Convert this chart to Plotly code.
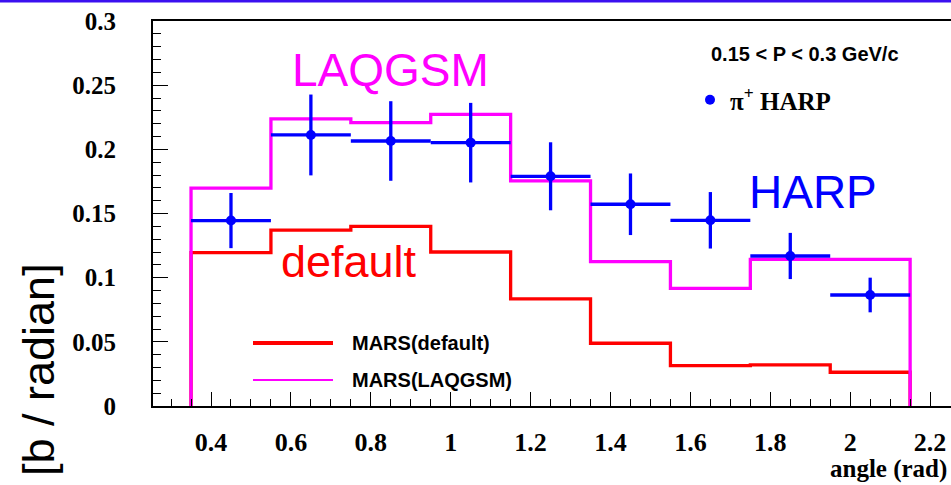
import plotly.graph_objects as go

# ---- data ----
bin_edges = [0.35, 0.55, 0.75, 0.95, 1.15, 1.35, 1.55, 1.75, 1.95, 2.15]
harp_x = [0.45, 0.65, 0.85, 1.05, 1.25, 1.45, 1.65, 1.85, 2.05]
harp_y = [0.1445, 0.2112, 0.2065, 0.2052, 0.1790, 0.1572, 0.1447, 0.1169, 0.0865]
harp_err = [0.0215, 0.0315, 0.0310, 0.0310, 0.0265, 0.0240, 0.0220, 0.0180, 0.0135]
harp_xerr = [0.1] * 9
mars_default = [0.1195, 0.1370, 0.1400, 0.1200, 0.0834, 0.0489, 0.0314, 0.0320, 0.0263]
mars_laqgsm = [0.1697, 0.2237, 0.2208, 0.2273, 0.1754, 0.1125, 0.0917, 0.1143, 0.1143]

x_tickvals = [0.4, 0.6, 0.8, 1.0, 1.2, 1.4, 1.6, 1.8, 2.0, 2.2]
x_ticktext = ["0.4", "0.6", "0.8", "1", "1.2", "1.4", "1.6", "1.8", "2", "2.2"]
y_tickvals = [0, 0.05, 0.1, 0.15, 0.2, 0.25, 0.3]
y_ticktext = ["0", "0.05", "0.1", "0.15", "0.2", "0.25", "0.3"]


def step_xy(edges, vals):
    xs = [edges[0], edges[0]] + list(edges[1:-1]) + [edges[-1], edges[-1]]
    ys = [0] + list(vals) + [vals[-1], 0]
    return xs, ys


W, H = 951, 485
L, R, T, B = 153, 0, 21, 79
PW, PH = W - L - R, H - T - B


def px(x):
    return (x - L) / PW


def py(y):
    return (H - B - y) / PH


fig = go.Figure()

xd, yd = step_xy(bin_edges, mars_default)
fig.add_trace(go.Scatter(x=xd, y=yd, mode="lines", line=dict(color="#ff0000", width=3.3, shape="hv"),
                         showlegend=False, name="MARS(default)"))
xl, yl = step_xy(bin_edges, mars_laqgsm)
fig.add_trace(go.Scatter(x=xl, y=yl, mode="lines", line=dict(color="#ff00ff", width=3.3, shape="hv"),
                         showlegend=False, name="MARS(LAQGSM)"))
fig.add_trace(go.Scatter(
    x=harp_x, y=harp_y, mode="markers", name="π<sup>+</sup> HARP",
    marker=dict(color="#0000ff", size=10, symbol="circle"),
    error_y=dict(type="data", array=harp_err, color="#0000ff", thickness=3.3, width=0),
    error_x=dict(type="data", array=harp_xerr, color="#0000ff", thickness=3.3, width=0),
    showlegend=True))

fig.update_layout(
    width=W, height=H,
    margin=dict(l=L, r=R, t=T, b=B, pad=0),
    paper_bgcolor="white", plot_bgcolor="white",
    showlegend=True,
    legend=dict(x=px(690), y=py(100), xanchor="left", yanchor="middle",
                bgcolor="rgba(0,0,0,0)", borderwidth=0,
                font=dict(family="Liberation Serif", size=25, color="black", weight="bold"),
                itemsizing="trace"),
    xaxis=dict(range=[0.2548, 0.2548 + PW / 399.5], showgrid=False, zeroline=False,
               showline=True, linecolor="black", linewidth=2, mirror=True,
               ticks="inside", ticklen=14, tickwidth=1.3, tickcolor="black",
               tickmode="array", tickvals=x_tickvals, ticktext=x_ticktext,
               tickfont=dict(family="Liberation Serif", size=26, color="black", weight="bold"),
               ticklabelstandoff=12,
               minor=dict(ticks="inside", ticklen=7, tickwidth=1.3, tickcolor="black",
                          tickmode="linear", tick0=0.25, dtick=0.05, showgrid=False)),
    yaxis=dict(range=[0, 0.3], showgrid=False, zeroline=False,
               showline=True, linecolor="black", linewidth=2, mirror=False,
               ticks="inside", ticklen=15, tickwidth=1.3, tickcolor="black",
               tickmode="array", tickvals=y_tickvals, ticktext=y_ticktext,
               tickfont=dict(family="Liberation Serif", size=25, color="black", weight="bold"),
               ticklabelstandoff=30,
               minor=dict(ticks="inside", ticklen=8, tickwidth=1.3, tickcolor="black",
                          tickmode="linear", tick0=0, dtick=0.01, showgrid=False)),
)

shapes = [
    dict(type="line", xref="paper", yref="paper", x0=px(0), x1=px(W), y0=py(1), y1=py(1),
         line=dict(color="#3b10f0", width=3)),
    dict(type="line", xref="paper", yref="paper", x0=px(253), x1=px(333), y0=py(343), y1=py(343),
         line=dict(color="#ff0000", width=4)),
    dict(type="line", xref="paper", yref="paper", x0=px(253), x1=px(333), y0=py(380), y1=py(380),
         line=dict(color="#ff00ff", width=2)),
]
fig.update_layout(shapes=shapes)

ann = [
    dict(text="LAQGSM", x=px(390), y=py(70), font=dict(family="Liberation Sans", size=46, color="#ff00ff")),
    dict(text="default", x=px(349), y=py(261), font=dict(family="Liberation Sans", size=45, color="#ff0000")),
    dict(text="HARP", x=px(813), y=py(192), font=dict(family="Liberation Sans", size=46, color="#0000ff")),
    dict(text="0.15 < P < 0.3 GeV/c", x=px(805), y=py(54),
         font=dict(family="Liberation Sans", size=20, color="black", weight="bold")),
    dict(text="MARS(default)", x=px(351), y=py(343), xanchor="left",
         font=dict(family="Liberation Sans", size=20, color="black", weight="bold")),
    dict(text="MARS(LAQGSM)", x=px(351), y=py(380), xanchor="left",
         font=dict(family="Liberation Sans", size=20, color="black", weight="bold")),
    dict(text="angle (rad)", x=px(948), y=py(484), xanchor="right", yanchor="bottom",
         font=dict(family="Liberation Serif", size=25, color="black", weight="bold")),
    dict(text="[b / radian]", x=px(38), y=py(370), textangle=-90,
         font=dict(family="Liberation Sans", size=45, color="black")),
]
for a in ann:
    a.setdefault("xanchor", "center")
    a.setdefault("yanchor", "middle")
    a.update(xref="paper", yref="paper", showarrow=False, borderpad=0)
fig.update_layout(annotations=ann)

fig.write_html("out.html")
